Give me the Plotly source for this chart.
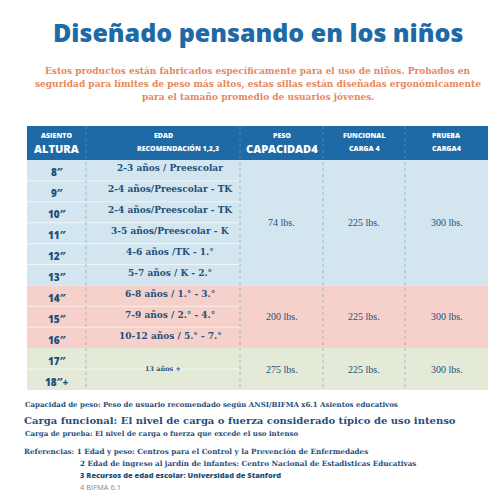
import plotly.graph_objects as go

heights = ['8″', '9″', '10″', '11″', '12″', '13″', '14″', '15″', '16″', '17″', '18″+']
ages = ['2-3 años / Preescolar', '2-4 años/Preescolar - TK', '2-4 años/Preescolar - TK',
        '3-5 años/Preescolar - K', '4-6 años /TK - 1.°', '5-7 años / K - 2.°',
        '6-8 años / 1.° - 3.°', '7-9 años / 2.° - 4.°', '10-12 años / 5.° - 7.°', '13 años +']
group_rows = [6, 3, 2]
capacity = ['74 lbs.', '200 lbs.', '275 lbs.']
functional = ['225 lbs.', '225 lbs.', '225 lbs.']
proof = ['300 lbs.', '300 lbs.', '300 lbs.']
group_colors = ['#d3e6f0', '#f6d1cb', '#e3ebd8']

DARK = '#1f4f7a'
HEAD = '#1e6aa6'
cols = [19, 78, 232, 315, 397, 480]
top_h, top_b = 118, 152
rh = 20.9

fig = go.Figure()
shapes, ann = [], []
def A(x, y, t, size, color=DARK, family='DejaVu Serif', bold=True, xanchor='center', weight=None):
    ann.append(dict(x=x, y=y, text=t, showarrow=False, xanchor=xanchor, yanchor='middle',
                    font=dict(size=size, color=color, family=family,
                              weight=weight if weight else ('bold' if bold else 'normal'))))

shapes.append(dict(type='rect', x0=cols[0], x1=cols[-1], y0=top_h, y1=top_b, fillcolor=HEAD, line_width=0, layer='below'))
hdr = [('ASIENTO', 'ALTURA', 7, 11), ('EDAD', 'RECOMENDACIÓN 1,2,3', 7, 7), ('PESO', 'CAPACIDAD4', 7, 11),
       ('FUNCIONAL', 'CARGA 4', 7, 7), ('PRUEBA', 'CARGA4', 7, 7)]
for i, (a, b, s1, s2) in enumerate(hdr):
    cx = (cols[i] + cols[i+1]) / 2
    A(cx, 127, a, s1, 'white', 'Open Sans', weight=800)
    A(cx + (15 if i == 1 else 0), 140, b, s2, 'white', 'Open Sans', weight=800)

y = top_b
r = 0
for g, n in enumerate(group_rows):
    h = rh * n if g < 2 else 42
    shapes.append(dict(type='rect', x0=cols[0], x1=cols[-1], y0=y, y1=y + h, fillcolor=group_colors[g], line_width=0, layer='below'))
    cy = y + h / 2
    for j, v in enumerate([capacity[g], functional[g], proof[g]]):
        A((cols[2+j] + cols[3+j]) / 2, cy, v, 10, DARK, 'Liberation Serif', bold=False)
    sub = h / n
    for k in range(n):
        ry = y + sub * (k + 0.5)
        A((cols[0] + cols[1]) / 2, ry + 2, heights[r], 10, DARK, 'Open Sans', weight=800)
        if k > 0:
            shapes.append(dict(type='line', x0=cols[0], x1=cols[2], y0=y + sub*k, y1=y + sub*k, line=dict(color='rgba(255,255,255,0.6)', width=1)))
        if g < 2:
            A(162, ry - 2, ages[r], 9)
        r += 1
    if g == 2:
        A(155, cy, ages[-1], 6.5)
    y += h
for c in cols[1:-1]:
    shapes.append(dict(type='line', x0=c, x1=c, y0=top_h, y1=y, line=dict(color='rgba(120,150,180,0.6)', width=1, dash='dot')))

A(250, 24, 'Diseñado pensando en los niños', 25, HEAD, 'Open Sans', weight=800)
sub = ['Estos productos están fabricados específicamente para el uso de niños. Probados en',
       'seguridad para límites de peso más altos, estas sillas están diseñadas ergonómicamente',
       'para el tamaño promedio de usuarios jóvenes.']
for i, s in enumerate(sub):
    A(250, 63 + i * 13, s, 9, '#e8875c', 'DejaVu Serif')

A(15, 396, 'Capacidad de peso: Peso de usuario recomendado según ANSI/BIFMA x6.1 Asientos educativos', 7, DARK, xanchor='left')
A(14, 412, 'Carga funcional: El nivel de carga o fuerza considerado típico de uso intenso', 10, DARK, xanchor='left')
A(15, 425, 'Carga de prueba: El nivel de carga o fuerza que excede el uso intenso', 7, DARK, xanchor='left')
A(14, 443, 'Referencias: 1 Edad y peso: Centros para el Control y la Prevención de Enfermedades', 7.2, DARK, xanchor='left')
A(70, 455, '2 Edad de ingreso al jardín de infantes: Centro Nacional de Estadisticas Educativas', 7.2, DARK, xanchor='left')
A(70, 467, '3 Recursos de edad escolar: Universidad de Stanford', 7.5, DARK, 'Open Sans', xanchor='left', weight=800)
A(70, 479, '4 BIFMA 6.1', 7.5, '#888888', 'Open Sans', bold=False, xanchor='left')

fig.update_layout(width=500, height=500, margin=dict(l=0, r=0, t=0, b=0), paper_bgcolor='white', plot_bgcolor='white',
                  xaxis=dict(range=[0, 500], visible=False, fixedrange=True),
                  yaxis=dict(range=[500, 0], visible=False, fixedrange=True),
                  shapes=shapes, annotations=ann, showlegend=False)
fig.write_html('out.html', config={'displayModeBar': False})
